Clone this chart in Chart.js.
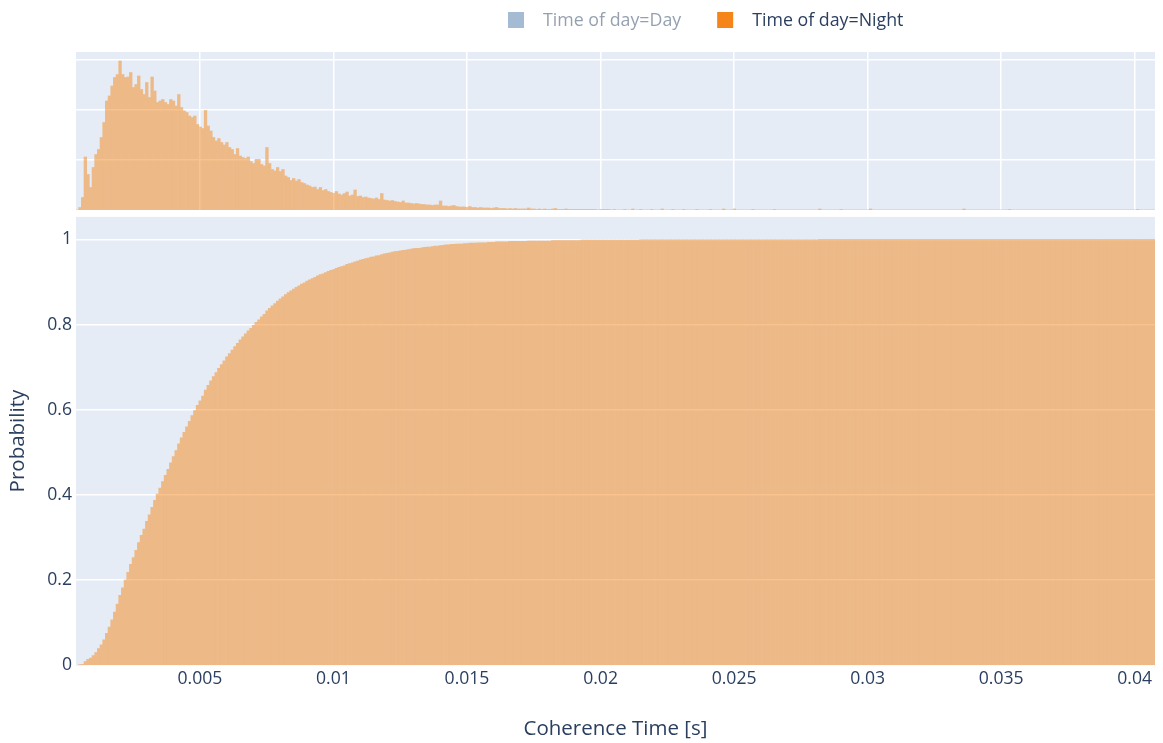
<!DOCTYPE html>
<html>
<head>
<meta charset="utf-8">
<title>Coherence Time – Night</title>
<script src="https://cdn.jsdelivr.net/npm/chart.js@4.4.1/dist/chart.umd.min.js"></script>
<style>
  html, body { margin: 0; padding: 0; background: #ffffff; }
  #wrap { position: relative; width: 1163px; height: 743px; overflow: hidden; }
  #cdf  { position: absolute; left: 0; top: 200px; width: 1163px; height: 543px; }
  #hist { position: absolute; left: 0; top: 0; width: 1163px; height: 214px; }
</style>
</head>
<body>
<div id="wrap">
  <canvas id="cdf" width="1163" height="543"></canvas>
  <canvas id="hist" width="1163" height="214"></canvas>
</div>
<script>
// ---- histogram binning (seconds) ----
const binStart = 0.00036;
const binSize = 0.0001;

// ---- series ----
const seriesLabels = ['Time of day=Day', 'Time of day=Night'];

// Night: counts per bin (marginal histogram)
const nightCounts = [
  0, 5, 25, 106, 71, 45, 85, 111, 121, 145,
  175, 218, 228, 248, 265, 271, 298, 271, 265, 266,
  275, 245, 251, 268, 241, 231, 255, 225, 266, 238,
  215, 218, 221, 215, 211, 221, 218, 208, 231, 205,
  198, 195, 188, 185, 188, 171, 166, 163, 199, 168,
  158, 145, 138, 143, 135, 130, 135, 125, 121, 111,
  123, 108, 105, 103, 106, 97, 93, 101, 101, 91,
  88, 125, 93, 81, 78, 85, 77, 81, 68, 65,
  59, 63, 58, 61, 55, 53, 50, 48, 45, 46,
  41, 45, 39, 41, 37, 35, 33, 37, 32, 30,
  33, 36, 28, 30, 40, 27, 28, 25, 26, 24,
  23, 22, 24, 21, 33, 20, 19, 18, 19, 17,
  16, 15, 18, 14, 14, 13, 12, 13, 12, 11,
  11, 10, 10, 9, 10, 10, 18, 8, 8, 7,
  8, 9, 7, 6, 6, 6, 5, 7, 5, 5,
  4, 5, 4, 4, 4, 3, 4, 5, 3, 3,
  3, 2, 3, 2, 3, 2, 2, 2, 2, 4,
  2, 2, 1, 2, 1, 2, 1, 1, 2, 3,
  1, 1, 1, 2, 1, 1, 1, 1, 1, 1,
  1, 1, 1, 1, 1, 0, 1, 1, 1, 1,
  0, 1, 0, 0, 0, 1, 0, 0, 2, 0, 0, 1, 0, 0, 0, 1, 0, 0, 0, 2,
  0, 0, 0, 1, 0, 0, 0, 1, 0, 0, 0, 0, 1, 0, 0, 0, 0, 1, 0, 0,
  0, 0, 2, 0, 0, 0, 2, 0, 0, 0, 0, 0, 0, 1, 0, 0, 0, 0, 0, 0,
  0, 1, 0, 0, 0, 0, 0, 0, 0, 0, 0, 0, 0, 0, 0, 0, 0, 0, 2, 0,
  0, 0, 0, 0, 0, 0, 1, 0, 0, 0, 0, 0, 0, 0, 0, 0, 0, 2, 0, 0,
  0, 0, 0, 0, 0, 0, 0, 0, 0, 0, 0, 0, 0, 0, 0, 0, 0, 0, 0, 0,
  0, 0, 0, 0, 0, 0, 0, 0, 0, 0, 0, 0, 2, 0, 0, 0, 0, 0, 0, 0,
  0, 0, 0, 0, 0, 0, 0, 0, 0, 1, 0, 0, 0, 0, 0, 0, 0, 0, 0, 0,
  0, 0, 0, 0, 0, 0, 0, 0, 0, 0, 0, 0, 0, 0, 0, 0, 0, 0, 0, 0,
  0, 0, 0, 0, 0, 0, 0, 0, 0, 0, 0, 0, 0, 0, 0, 0, 0, 1, 0, 0,
  0, 0, 0, 0
];

// Night: cumulative probability per bin
const nightCumulative = [
  0, 0.0003, 0.002, 0.009, 0.014, 0.017, 0.023, 0.030, 0.039, 0.048,
  0.060, 0.075, 0.090, 0.107, 0.125, 0.144, 0.164, 0.182, 0.200, 0.218,
  0.237, 0.253, 0.270, 0.288, 0.305, 0.320, 0.338, 0.353, 0.371, 0.387,
  0.402, 0.416, 0.431, 0.446, 0.460, 0.475, 0.490, 0.504, 0.520, 0.534,
  0.547, 0.560, 0.573, 0.586, 0.598, 0.610, 0.621, 0.632, 0.646, 0.657,
  0.668, 0.678, 0.687, 0.697, 0.706, 0.715, 0.724, 0.732, 0.740, 0.748,
  0.756, 0.764, 0.771, 0.778, 0.785, 0.791, 0.798, 0.805, 0.811, 0.818,
  0.824, 0.832, 0.838, 0.844, 0.849, 0.855, 0.860, 0.865, 0.870, 0.875,
  0.879, 0.883, 0.887, 0.891, 0.895, 0.898, 0.902, 0.905, 0.908, 0.911,
  0.914, 0.917, 0.919, 0.922, 0.925, 0.927, 0.929, 0.932, 0.934, 0.936,
  0.938, 0.941, 0.943, 0.945, 0.947, 0.949, 0.951, 0.953, 0.955, 0.956,
  0.958, 0.959, 0.961, 0.962, 0.964, 0.966, 0.967, 0.968, 0.970, 0.971,
  0.972, 0.973, 0.974, 0.975, 0.976, 0.977, 0.978, 0.979, 0.979, 0.980,
  0.981, 0.982, 0.982, 0.983, 0.984, 0.984, 0.985, 0.986, 0.987, 0.987,
  0.988, 0.988, 0.989, 0.989, 0.989, 0.990, 0.990, 0.991, 0.991, 0.991,
  0.992, 0.992, 0.992, 0.992, 0.993, 0.993, 0.993, 0.994, 0.994, 0.994,
  0.994, 0.994, 0.995, 0.995, 0.995, 0.995, 0.995, 0.995, 0.995, 0.996,
  0.996, 0.996, 0.996, 0.996, 0.996, 0.996, 0.996, 0.996, 0.997, 0.997,
  0.997, 0.997, 0.997, 0.997, 0.997, 0.997, 0.997, 0.997, 0.997, 0.998,
  0.998, 0.998, 0.998, 0.998, 0.998, 0.998, 0.998, 0.998, 0.998, 0.998,
  0.998, 0.998, 0.998, 0.998, 0.998, 0.998, 0.998, 0.998, 0.998, 0.998,
  0.998, 0.999, 0.999, 0.999, 0.999, 0.999, 0.999, 0.999, 0.999, 0.999,
  0.999, 0.999, 0.999, 0.999, 0.999, 0.999, 0.999, 0.999, 0.999, 0.999,
  0.999, 0.999, 0.999, 0.999, 0.999, 0.999, 0.999, 0.999, 0.999, 0.999,
  0.999, 0.999, 0.999, 0.999, 0.999, 0.999, 0.999, 0.999, 0.999, 0.999,
  0.999, 0.999, 0.999, 0.999, 0.999, 0.999, 0.999, 0.999, 0.999, 0.999,
  0.999, 0.999, 0.999, 0.999, 0.999, 0.999, 0.999, 0.999, 0.999, 0.999,
  0.999, 0.999, 0.999, 0.999, 0.999, 0.999, 0.999, 0.999, 1, 1,
  1, 1, 1, 1, 1, 1, 1, 1, 1, 1, 1, 1, 1, 1, 1, 1, 1, 1, 1, 1,
  1, 1, 1, 1, 1, 1, 1, 1, 1, 1, 1, 1, 1, 1, 1, 1, 1, 1, 1, 1,
  1, 1, 1, 1, 1, 1, 1, 1, 1, 1, 1, 1, 1, 1, 1, 1, 1, 1, 1, 1,
  1, 1, 1, 1, 1, 1, 1, 1, 1, 1, 1, 1, 1, 1, 1, 1, 1, 1, 1, 1,
  1, 1, 1, 1, 1, 1, 1, 1, 1, 1, 1, 1, 1, 1, 1, 1, 1, 1, 1, 1,
  1, 1, 1, 1, 1, 1, 1, 1, 1, 1, 1, 1, 1, 1, 1, 1, 1, 1, 1, 1,
  1, 1, 1, 1
];

// ---- tick labels ----
const xTickValues = [0.005, 0.01, 0.015, 0.02, 0.025, 0.03, 0.035, 0.04];
const yTickValues = [0, 0.2, 0.4, 0.6, 0.8, 1];
const histGridValues = [100, 200, 300];

// ---- styling ----
const TEXT = '#2a3f5f';
const PLOT_BG = '#E5ECF6';
const DAY_COLOR = '#4C78A8';
const NIGHT_COLOR = '#F58518';
const NIGHT_FILL = '#EDB987';          // night colour at half opacity over the plot background
const GRID_UNDER_FILL = 'rgb(250,194,140)';
const GRID_W = 1.5;
const X_MIN = 0.00036, X_MAX = 0.04076;
const TICK_SIZE = 17.6, LEGEND_SIZE = 17.8, TITLE_SIZE = 20.5;

Chart.defaults.font.family = '"Open Sans", "Noto Sans", sans-serif';
Chart.defaults.color = TEXT;

const binCenter = j => binStart + (j + 0.5) * binSize;
const toPoints = arr => arr.map((v, j) => ({ x: binCenter(j), y: v }));

// plot-area background
const plotBg = {
  id: 'plotBg',
  beforeDraw(chart) {
    const { ctx, chartArea: a } = chart;
    ctx.save();
    ctx.fillStyle = PLOT_BG;
    ctx.fillRect(a.left, a.top, a.right - a.left, a.bottom - a.top);
    ctx.restore();
  }
};

// grid lines seen through the half-transparent bars
const gridThroughBars = {
  id: 'gridThroughBars',
  afterDatasetsDraw(chart, args, opts) {
    const { ctx, chartArea: a } = chart;
    const bars = [];
    chart.data.datasets.forEach((ds, i) => {
      if (chart.isDatasetVisible(i)) bars.push(...chart.getDatasetMeta(i).data);
    });
    if (!bars.length) return;
    const lw = opts.lineWidth;
    const align = p => Math.round(p - lw / 2) + lw / 2;
    ctx.save();
    ctx.beginPath();
    bars.forEach(b => {
      const p = b.getProps(['x', 'y', 'base', 'width'], true);
      const h = Math.abs(p.base - p.y);
      if (h > 0) ctx.rect(p.x - p.width / 2, Math.min(p.y, p.base), p.width, h);
    });
    ctx.clip();
    ctx.strokeStyle = opts.color;
    ctx.lineWidth = lw;
    ctx.beginPath();
    const ys = chart.scales.y;
    ys.ticks.forEach(t => {
      if (t.value === 0) return;
      const py = align(ys.getPixelForValue(t.value));
      ctx.moveTo(a.left, py); ctx.lineTo(a.right, py);
    });
    if (opts.vertical) {
      const xs = chart.scales.x;
      xs.ticks.forEach(t => {
        const px = align(xs.getPixelForValue(t.value));
        ctx.moveTo(px, a.top); ctx.lineTo(px, a.bottom);
      });
    }
    ctx.stroke();
    ctx.restore();
  }
};

// horizontal legend; hidden series are drawn faded
const seriesLegend = {
  id: 'seriesLegend',
  afterDraw(chart, args, opts) {
    const ctx = chart.ctx;
    ctx.save();
    ctx.font = `${opts.fontSize}px "Open Sans", sans-serif`;
    ctx.textBaseline = 'middle';
    ctx.textAlign = 'left';
    let x = opts.x;
    chart.data.datasets.forEach((ds, i) => {
      ctx.globalAlpha = chart.isDatasetVisible(i) ? 1 : 0.5;
      ctx.fillStyle = ds.legendColor;
      ctx.fillRect(x, opts.y - opts.box / 2, opts.box, opts.box);
      const tx = x + opts.box + opts.gap;
      ctx.fillStyle = TEXT;
      ctx.fillText(ds.label, tx, opts.y + 1);
      x = tx + ctx.measureText(ds.label).width + opts.itemGap;
    });
    ctx.restore();
  }
};

const setTicks = values => scale => { scale.ticks = values.map(v => ({ value: v })); };
const barStyle = {
  backgroundColor: NIGHT_FILL,
  borderWidth: 0,
  barPercentage: 1,
  categoryPercentage: 1,
  grouped: false
};

// ---- marginal histogram (top) ----
new Chart(document.getElementById('hist'), {
  type: 'bar',
  data: {
    datasets: [
      { label: seriesLabels[0], data: [], hidden: true, legendColor: DAY_COLOR, ...barStyle, backgroundColor: DAY_COLOR },
      { label: seriesLabels[1], data: toPoints(nightCounts), legendColor: NIGHT_COLOR, ...barStyle }
    ]
  },
  options: {
    responsive: false,
    animation: false,
    events: [],
    layout: { padding: { left: 76, right: 8, top: 52, bottom: 4 } },
    plugins: {
      legend: { display: false },
      tooltip: { enabled: false },
      gridThroughBars: { color: GRID_UNDER_FILL, lineWidth: GRID_W, vertical: true },
      seriesLegend: { x: 508, y: 20, box: 16, gap: 19, itemGap: 36, fontSize: LEGEND_SIZE }
    },
    scales: {
      x: {
        type: 'linear', min: X_MIN, max: X_MAX, offset: false,
        afterBuildTicks: setTicks(xTickValues),
        afterFit: s => { s.height = 0; },
        ticks: { display: false },
        grid: { color: '#ffffff', lineWidth: GRID_W, drawTicks: false, offset: false },
        border: { display: false }
      },
      y: {
        min: 0, max: 316,
        afterBuildTicks: setTicks(histGridValues),
        afterFit: s => { s.width = 0; },
        ticks: { display: false },
        grid: { color: '#ffffff', lineWidth: GRID_W, drawTicks: false },
        border: { display: false }
      }
    }
  },
  plugins: [plotBg, gridThroughBars, seriesLegend]
});

// ---- cumulative probability (bottom) ----
new Chart(document.getElementById('cdf'), {
  type: 'bar',
  data: {
    datasets: [
      { label: seriesLabels[0], data: [], hidden: true, ...barStyle, backgroundColor: DAY_COLOR },
      { label: seriesLabels[1], data: toPoints(nightCumulative), ...barStyle }
    ]
  },
  options: {
    responsive: false,
    animation: false,
    events: [],
    layout: { padding: { left: 0, right: 8, top: 16.9, bottom: 0 } },
    plugins: {
      legend: { display: false },
      tooltip: { enabled: false },
      gridThroughBars: { color: GRID_UNDER_FILL, lineWidth: GRID_W, vertical: false }
    },
    scales: {
      x: {
        type: 'linear', min: X_MIN, max: X_MAX, offset: false,
        afterBuildTicks: setTicks(xTickValues),
        afterFit: s => { s.height = 77.7; },
        ticks: { font: { size: TICK_SIZE }, color: TEXT, padding: 3, maxRotation: 0, autoSkip: false,
                 callback: v => String(v) },
        grid: { display: false, drawTicks: false, offset: false },
        border: { display: false },
        title: { display: true, text: 'Coherence Time [s]', font: { size: TITLE_SIZE }, color: TEXT,
                 padding: { top: 0, bottom: 1.5 } }
      },
      y: {
        min: 0, max: 1.0526,
        afterBuildTicks: setTicks(yTickValues),
        afterFit: s => { s.width = 76; },
        ticks: { font: { size: TICK_SIZE }, color: TEXT, padding: 4, callback: v => String(v) },
        grid: { color: c => (c.tick && c.tick.value === 0) ? 'rgba(0,0,0,0)' : '#ffffff',
                lineWidth: GRID_W, drawTicks: false },
        border: { display: false },
        title: { display: true, text: 'Probability', font: { size: TITLE_SIZE }, color: TEXT,
                 padding: { top: 6, bottom: 0 } }
      }
    }
  },
  plugins: [plotBg, gridThroughBars]
});
</script>
</body>
</html>
